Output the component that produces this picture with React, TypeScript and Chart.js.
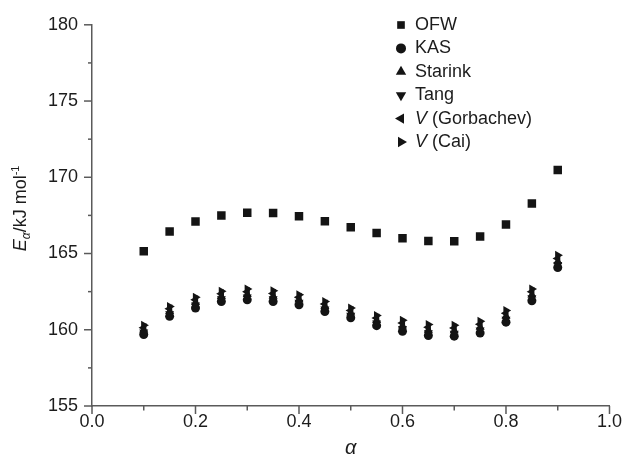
import React, { useEffect, useRef } from 'react';
import { Chart, registerables } from 'chart.js';
import { drawPoint } from 'chart.js/helpers';

Chart.register(...registerables);

// ---------- data ----------
const alphaValues = [0.1, 0.15, 0.2, 0.25, 0.3, 0.35, 0.4, 0.45, 0.5, 0.55, 0.6, 0.65, 0.7, 0.75, 0.8, 0.85, 0.9];
const ofw = [165.15, 166.45, 167.1, 167.5, 167.68, 167.65, 167.45, 167.12, 166.72, 166.35, 166.0, 165.82, 165.8, 166.12, 166.9, 168.28, 170.47];
const kas = [159.69, 160.88, 161.43, 161.85, 161.96, 161.85, 161.64, 161.2, 160.78, 160.27, 159.9, 159.62, 159.58, 159.79, 160.5, 161.9, 164.08];
const tang = [159.84, 161.04, 161.61, 162.02, 162.14, 162.03, 161.8, 161.36, 160.94, 160.44, 160.08, 159.8, 159.76, 159.98, 160.69, 162.1, 164.28];
const starink = [159.99, 161.21, 161.79, 162.19, 162.32, 162.21, 161.97, 161.53, 161.11, 160.61, 160.26, 159.98, 159.94, 160.17, 160.89, 162.29, 164.48];
const vGorbachev = [160.14, 161.37, 161.96, 162.36, 162.5, 162.38, 162.13, 161.69, 161.27, 160.77, 160.44, 160.16, 160.11, 160.36, 161.08, 162.49, 164.68];
const vCai = [160.29, 161.53, 162.14, 162.53, 162.68, 162.56, 162.29, 161.85, 161.43, 160.94, 160.62, 160.34, 160.29, 160.55, 161.27, 162.68, 164.88];

const xMinorTicks = [0.1, 0.3, 0.5, 0.7, 0.9];
const xMajorTicks = [0, 0.2, 0.4, 0.6, 0.8, 1.0];
const yMajorTicks = [155, 160, 165, 170, 175, 180];
const yMinorTicks = [157.5, 162.5, 167.5, 172.5, 177.5];

const legendItems = [
  { italic: '', text: 'OFW', style: 'rect', rotation: 0, radius: 5.4 },
  { italic: '', text: 'KAS', style: 'circle', rotation: 0, radius: 5 },
  { italic: '', text: 'Starink', style: 'triangle', rotation: 0, radius: 6 },
  { italic: '', text: 'Tang', style: 'triangle', rotation: 180, radius: 6 },
  { italic: 'V', text: ' (Gorbachev)', style: 'triangle', rotation: -90, radius: 6 },
  { italic: 'V', text: ' (Cai)', style: 'triangle', rotation: 90, radius: 6 },
];

const FONT = '"Liberation Sans", Arial, Helvetica, sans-serif';
const TEXT = '#1c1c1c';
const AXIS = '#5a5a5a';
const MARK = '#141414';

const pts = (ys: number[]) => alphaValues.map((x, i) => ({ x, y: ys[i] }));

const decorPlugin = {
  id: 'decor',
  afterDraw(chart: any) {
    const ctx: CanvasRenderingContext2D = chart.ctx;
    const xs = chart.scales.x;
    const ys = chart.scales.y;
    const area = chart.chartArea;
    ctx.save();
    ctx.strokeStyle = AXIS;
    ctx.lineWidth = 1.5;
    const vline = (px: number, len: number) => {
      ctx.beginPath();
      ctx.moveTo(px, area.bottom);
      ctx.lineTo(px, area.bottom + len);
      ctx.stroke();
    };
    const hline = (py: number, len: number) => {
      ctx.beginPath();
      ctx.moveTo(area.left, py);
      ctx.lineTo(area.left - len, py);
      ctx.stroke();
    };
    xMajorTicks.forEach((v) => vline(xs.getPixelForValue(v), 8));
    xMinorTicks.forEach((v) => vline(xs.getPixelForValue(v), 4.5));
    yMajorTicks.forEach((v) => hline(ys.getPixelForValue(v), 8));
    yMinorTicks.forEach((v) => hline(ys.getPixelForValue(v), 4));

    // legend
    legendItems.forEach((it, i) => {
      const cy = 25 + i * 23.4;
      ctx.fillStyle = MARK;
      drawPoint(ctx, { pointStyle: it.style, rotation: it.rotation, radius: it.radius, borderWidth: 0 } as any, 401, cy);
      ctx.fillStyle = TEXT;
      ctx.textBaseline = 'middle';
      ctx.textAlign = 'left';
      let tx = 415;
      if (it.italic) {
        ctx.font = `italic 18px ${FONT}`;
        ctx.fillText(it.italic, tx, cy);
        tx += ctx.measureText(it.italic).width;
      }
      ctx.font = `18px ${FONT}`;
      ctx.fillText(it.text, tx, cy);
    });

    // y title
    const parts = [
      { t: 'E', f: `italic 18px ${FONT}`, dy: 0 },
      { t: 'α', f: `italic 12px ${FONT}`, dy: 4 },
      { t: '/kJ mol', f: `18px ${FONT}`, dy: 0 },
      { t: '-1', f: `11px ${FONT}`, dy: -7.5 },
    ];
    let total = 0;
    parts.forEach((p) => {
      ctx.font = p.f;
      total += ctx.measureText(p.t).width;
    });
    ctx.translate(26, (area.top + area.bottom) / 2 - 7);
    ctx.rotate(-Math.PI / 2);
    ctx.textBaseline = 'alphabetic';
    ctx.textAlign = 'left';
    ctx.fillStyle = TEXT;
    let px = -total / 2;
    parts.forEach((p) => {
      ctx.font = p.f;
      ctx.fillText(p.t, px, p.dy);
      px += ctx.measureText(p.t).width;
    });
    ctx.setTransform(1, 0, 0, 1, 0, 0);

    // x title
    ctx.font = `italic 20px ${FONT}`;
    ctx.textAlign = 'center';
    ctx.textBaseline = 'alphabetic';
    ctx.fillText('α', (area.left + area.right) / 2, 454);
    ctx.restore();
  },
};

export default function App() {
  const ref = useRef<HTMLCanvasElement | null>(null);
  useEffect(() => {
    if (!ref.current) return;
    const mk = (label: string, data: number[], style: string, rotation: number, radius: number) => ({
      label,
      data: pts(data),
      pointStyle: style,
      rotation,
      pointRadius: radius,
      pointBackgroundColor: MARK,
      pointBorderColor: MARK,
      pointBorderWidth: 0,
      showLine: false,
    });
    const chart = new Chart(ref.current, {
      type: 'scatter',
      data: {
        datasets: [
          mk('OFW', ofw, 'rect', 0, 6),
          mk('KAS', kas, 'circle', 0, 4.5),
          mk('Tang', tang, 'triangle', 180, 5.2),
          mk('Starink', starink, 'triangle', 0, 5.2),
          mk('V (Gorbachev)', vGorbachev, 'triangle', -90, 5.2),
          mk('V (Cai)', vCai, 'triangle', 90, 5.2),
        ] as any,
      },
      options: {
        animation: false,
        responsive: false,
        devicePixelRatio: 1,
        events: [],
        layout: { padding: { top: 21, right: 15, left: 0, bottom: 0 } },
        plugins: { legend: { display: false }, tooltip: { enabled: false } },
        scales: {
          x: {
            type: 'linear',
            min: 0,
            max: 1,
            afterFit: (s: any) => {
              s.height = 51;
            },
            ticks: {
              stepSize: 0.2,
              autoSkip: false,
              maxRotation: 0,
              padding: 5,
              color: TEXT,
              font: { family: FONT, size: 18 },
              callback: (v: any) => Number(v).toFixed(1),
            },
            grid: { display: false, drawTicks: false },
            border: { display: true, color: AXIS, width: 1.5 },
          },
          y: {
            type: 'linear',
            min: 155,
            max: 180,
            afterFit: (s: any) => {
              s.width = 92;
            },
            ticks: {
              stepSize: 5,
              autoSkip: false,
              padding: 14,
              color: TEXT,
              font: { family: FONT, size: 18 },
              callback: (v: any) => String(Math.round(Number(v))),
            },
            grid: { display: false, drawTicks: false },
            border: { display: true, color: AXIS, width: 1.5 },
          },
        },
      },
      plugins: [decorPlugin],
    });
    return () => chart.destroy();
  }, []);
  return (
    <div style={{ position: 'fixed', left: 0, top: 0, width: 627, height: 457, background: '#fff' }}>
      <canvas ref={ref} width={627} height={457} style={{ width: 627, height: 457, display: 'block' }} />
    </div>
  );
}
